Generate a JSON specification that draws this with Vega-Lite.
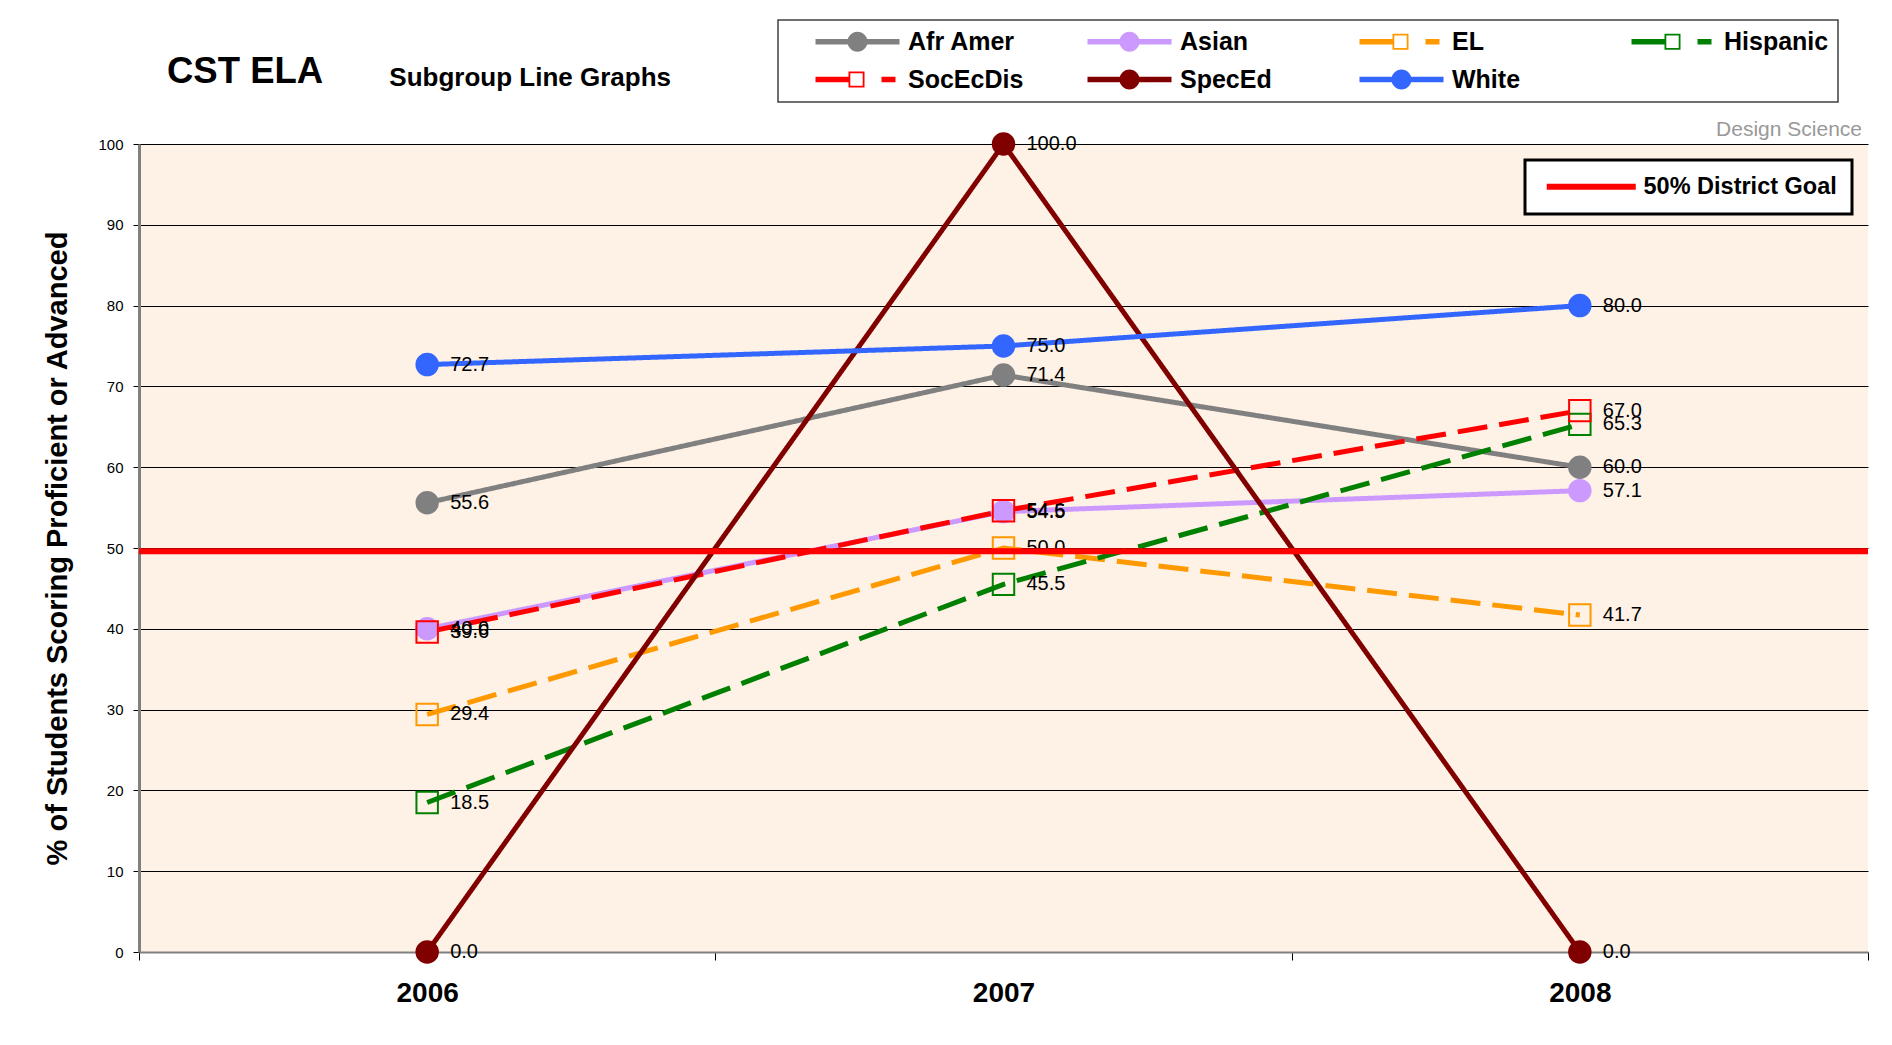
{
  "$schema": "https://vega.github.io/schema/vega-lite/v6.json",
  "width": 1729,
  "height": 808,
  "autosize": {"type": "none"},
  "padding": {"left": 139, "top": 144, "right": 24, "bottom": 93},
  "background": "white",
  "config": {
    "font": "Liberation Sans",
    "view": {"stroke": null, "fill": "#FEF1E6"},
    "axisX": {
      "title": null, "labelFont": "Liberation Sans", "labelFontSize": 28, "labelFontWeight": "bold",
      "labelColor": "black", "labelAngle": 0, "tickBand": "extent", "tickSize": 8, "tickColor": "black",
      "domainColor": "#808080", "domainWidth": 2, "labelPadding": 19, "grid": false
    },
    "axisY": {
      "titleFont": "Liberation Sans", "titleFontSize": 29, "titleFontWeight": "bold", "titleColor": "black",
      "titlePadding": 25, "labelFont": "Liberation Sans Narrow, Liberation Sans", "labelFontSize": 15,
      "labelColor": "black", "tickSize": 6, "tickColor": "black", "labelPadding": 10,
      "grid": true, "gridColor": "black", "gridWidth": 1, "gridOpacity": 1,
      "domainColor": "#808080", "domainWidth": 3
    }
  },
  "title": {
    "text": "CST ELA", "anchor": "start", "frame": "group", "fontSize": 36.5, "fontWeight": "bold",
    "font": "Liberation Sans", "color": "black", "dx": 28, "offset": 0, "dy": 100, "baseline": "alphabetic"
  },
  "datasets": {
    "scores": [
      {"series": "Afr Amer", "year": "2006", "value": 55.6},
      {"series": "Afr Amer", "year": "2007", "value": 71.4},
      {"series": "Afr Amer", "year": "2008", "value": 60.0},
      {"series": "Asian", "year": "2006", "value": 40.0},
      {"series": "Asian", "year": "2007", "value": 54.5},
      {"series": "Asian", "year": "2008", "value": 57.1},
      {"series": "EL", "year": "2006", "value": 29.4},
      {"series": "EL", "year": "2007", "value": 50.0},
      {"series": "EL", "year": "2008", "value": 41.7},
      {"series": "Hispanic", "year": "2006", "value": 18.5},
      {"series": "Hispanic", "year": "2007", "value": 45.5},
      {"series": "Hispanic", "year": "2008", "value": 65.3},
      {"series": "SocEcDis", "year": "2006", "value": 39.6},
      {"series": "SocEcDis", "year": "2007", "value": 54.6},
      {"series": "SocEcDis", "year": "2008", "value": 67.0},
      {"series": "SpecEd", "year": "2006", "value": 0.0},
      {"series": "SpecEd", "year": "2007", "value": 100.0},
      {"series": "SpecEd", "year": "2008", "value": 0.0},
      {"series": "White", "year": "2006", "value": 72.7},
      {"series": "White", "year": "2007", "value": 75.0},
      {"series": "White", "year": "2008", "value": 80.0}
    ]
  },
  "layer": [
    {
      "data": {"name": "scores"},
      "mark": {"type": "line", "strokeWidth": 5},
      "encoding": {
        "x": {"field": "year", "type": "ordinal", "scale": {"type": "band", "paddingInner": 0, "paddingOuter": 0}},
        "y": {"field": "value", "type": "quantitative", "scale": {"domain": [0, 100]},
              "axis": {"title": "% of Students Scoring Proficient or Advanced", "values": [0, 10, 20, 30, 40, 50, 60, 70, 80, 90, 100]}},
        "color": {
          "field": "series", "type": "nominal",
          "scale": {
            "domain": ["Afr Amer", "Asian", "EL", "Hispanic", "SocEcDis", "SpecEd", "White"],
            "range": ["#808080", "#CC99FF", "#FF9900", "#008000", "#FF0000", "#800000", "#3366FF"]
          },
          "legend": {
            "title": null, "orient": "none", "legendX": 639, "legendY": -124, "direction": "horizontal",
            "columns": 4, "gridAlign": "all", "columnPadding": 35, "rowPadding": 12, "padding": 9,
            "strokeColor": "#404040", "fillColor": "white",
            "labelFont": "Liberation Sans", "labelFontSize": 25, "labelFontWeight": "bold", "labelColor": "black",
            "labelOffset": 96, "symbolSize": 400, "labelLimit": 300,
            "encode": {
              "symbols": {"update": {
                "shape": {"signal": "indexof(['EL','Hispanic','SocEcDis'], datum.value) >= 0 ? 'M1.6,-0.28H4.9V0.28H1.6Z M4.9,-0.8H6.5V0.8H4.9Z M5.08,-0.62V0.62H6.32V-0.62Z M8.2,-0.28H9.6V0.28H8.2Z' : 'M1.6,-0.28H10V0.28H1.6Z M4.8,0A1,1 0 1,1 6.8,0A1,1 0 1,1 4.8,0Z'"},
                "fill": {"signal": "['#808080','#CC99FF','#FF9900','#008000','#FF0000','#800000','#3366FF'][indexof(['Afr Amer','Asian','EL','Hispanic','SocEcDis','SpecEd','White'], datum.value)]"},
                "stroke": {"value": "transparent"},
                "strokeWidth": {"value": 0},
                "opacity": {"value": 1}
              }},
              "legend": {"update": {"strokeWidth": {"value": 1.5}}}
            }
          }
        },
        "strokeDash": {
          "field": "series", "type": "nominal",
          "scale": {
            "domain": ["Afr Amer", "Asian", "EL", "Hispanic", "SocEcDis", "SpecEd", "White"],
            "range": [[1, 0], [1, 0], [30, 12], [30, 12], [30, 12], [1, 0], [1, 0]]
          },
          "legend": null
        }
      }
    },
    {
      "data": {"name": "scores"},
      "mark": {"type": "point", "filled": true, "size": 460, "strokeWidth": 2, "opacity": 1},
      "encoding": {
        "x": {"field": "year", "type": "ordinal"},
        "y": {"field": "value", "type": "quantitative"},
        "shape": {
          "field": "series", "type": "nominal",
          "scale": {
            "domain": ["Afr Amer", "Asian", "EL", "Hispanic", "SocEcDis", "SpecEd", "White"],
            "range": ["circle", "circle", "square", "square", "square", "circle", "circle"]
          },
          "legend": null
        },
        "fill": {
          "field": "series", "type": "nominal",
          "scale": {
            "domain": ["Afr Amer", "Asian", "EL", "Hispanic", "SocEcDis", "SpecEd", "White"],
            "range": ["#808080", "#CC99FF", "transparent", "transparent", "transparent", "#800000", "#3366FF"]
          },
          "legend": null
        },
        "stroke": {
          "field": "series", "type": "nominal",
          "scale": {
            "domain": ["Afr Amer", "Asian", "EL", "Hispanic", "SocEcDis", "SpecEd", "White"],
            "range": ["#808080", "#CC99FF", "#FF9900", "#008000", "#FF0000", "#800000", "#3366FF"]
          },
          "legend": null
        }
      }
    },
    {
      "data": {"name": "scores"},
      "mark": {"type": "text", "align": "left", "baseline": "middle", "dx": 23, "fontSize": 20, "font": "Liberation Sans", "color": "black"},
      "encoding": {
        "x": {"field": "year", "type": "ordinal"},
        "y": {"field": "value", "type": "quantitative"},
        "text": {"field": "value", "type": "quantitative", "format": ".1f"}
      }
    },
    {
      "data": {"values": [{"goal": "50% District Goal", "value": 49.6}]},
      "mark": {"type": "rule", "strokeWidth": 6},
      "encoding": {
        "y": {"field": "value", "type": "quantitative"},
        "color": {
          "field": "goal", "type": "nominal",
          "scale": {"range": ["#FF0000"]},
          "legend": {
            "title": null, "orient": "none", "legendX": 1386, "legendY": 16, "padding": 15,
            "strokeColor": "black", "fillColor": "white",
            "labelFont": "Liberation Sans", "labelFontSize": 23.5, "labelFontWeight": "bold", "labelColor": "black",
            "symbolSize": 100, "labelOffset": 80, "labelLimit": 400,
            "encode": {
              "symbols": {"update": {
                "shape": {"value": "M-1,-0.6H16.8V0.6H-1Z"},
                "fill": {"value": "#FF0000"},
                "stroke": {"value": "transparent"},
                "strokeWidth": {"value": 0},
                "opacity": {"value": 1}
              }},
              "legend": {"update": {"strokeWidth": {"value": 3}}}
            }
          }
        }
      }
    },
    {
      "data": {"values": [{"label": "Design Science", "year": "2008", "v": 100}]},
      "mark": {"type": "text", "align": "right", "baseline": "alphabetic", "dx": -6, "dy": -8, "fontSize": 21, "font": "Liberation Sans", "color": "#999999"},
      "encoding": {
        "x": {"field": "year", "type": "ordinal", "bandPosition": 1},
        "y": {"field": "v", "type": "quantitative"},
        "text": {"field": "label"}
      }
    },
    {
      "data": {"values": [{"label": "Subgroup Line Graphs", "year": "2006", "v": 100}]},
      "mark": {"type": "text", "align": "center", "baseline": "alphabetic", "dx": 103, "dy": -58, "fontSize": 26, "fontWeight": "bold", "font": "Liberation Sans", "color": "black"},
      "encoding": {
        "x": {"field": "year", "type": "ordinal"},
        "y": {"field": "v", "type": "quantitative"},
        "text": {"field": "label"}
      }
    }
  ],
  "resolve": {"scale": {"color": "independent"}}
}
